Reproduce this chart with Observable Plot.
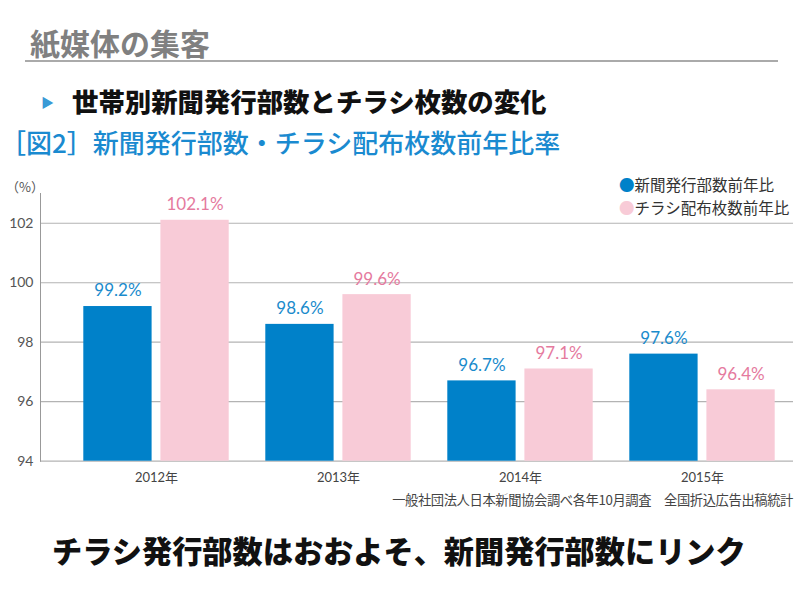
<!DOCTYPE html>
<html><head><meta charset="utf-8">
<script src="https://cdn.jsdelivr.net/npm/d3@7"></script>
<script src="https://cdn.jsdelivr.net/npm/@observablehq/plot@0.6"></script>
<style>
body{margin:0;background:#fff;}
#wrap{position:relative;width:800px;height:600px;overflow:hidden;font-family:"Noto Sans CJK JP","Noto Sans",sans-serif;}
.t{position:absolute;white-space:nowrap;}
#chart{position:absolute;left:0;top:0;}
</style></head>
<body><div id="wrap">
<div class="t" style="left:30px;top:24px;line-height:36px;font-size:30px;font-weight:700;color:#808080;">紙媒体の集客</div>
<div class="t" style="left:25px;top:60px;width:753px;height:2px;background:#aaaaaa;"></div>
<div class="t" style="left:41px;top:93px;line-height:18px;font-size:13px;color:#3a9ad6;">▶</div>
<div class="t" style="left:72px;top:84px;line-height:34px;font-size:26.4px;font-weight:900;color:#111;">世帯別新聞発行部数とチラシ枚数の変化</div>
<div class="t" style="left:0px;top:125px;line-height:34px;font-size:26px;font-weight:500;color:#1a8ad0;">［図2］新聞発行部数・チラシ配布枚数前年比率</div>
<div class="t" id="legend" style="left:619px;top:173px;font-size:15.5px;color:#333;line-height:23px;"></div>
<div class="t" style="left:6px;top:178px;line-height:18px;font-size:13px;color:#555;">（%）</div>
<div class="t" style="right:7px;top:491px;line-height:18px;font-size:13.3px;color:#444;letter-spacing:-0.4px;">一般社団法人日本新聞協会調べ各年10月調査　全国折込広告出稿統計</div>
<div class="t" style="left:52px;top:532px;line-height:36px;font-size:30.2px;font-weight:900;color:#111;">チラシ発行部数はおおよそ、新聞発行部数にリンク</div>
<div id="chart"></div>
</div>
<script>
const years = ["2012年", "2013年", "2014年", "2015年"];
const newspaperValues = [99.2, 98.6, 96.7, 97.6];
const flyerValues = [102.1, 99.6, 97.1, 96.4];
const seriesNames = ["新聞発行部数前年比", "チラシ配布枚数前年比"];
const seriesColors = ["#0081c9", "#f8cbd7"];
const labelColors = ["#1a8bcc", "#e57a9e"];
const yTicks = [94, 96, 98, 100, 102];
const yMin = 94, yMax = 103;

const newspaper = years.map((y, i) => ({year: y, value: newspaperValues[i]}));
const flyer = years.map((y, i) => ({year: y, value: flyerValues[i]}));

// legend
document.getElementById("legend").innerHTML = seriesNames.map((n, i) =>
  `<div><span style="color:${seriesColors[i]}">●</span>${n}</div>`).join("");

const bandW = 182.7, pad = 18.3, barW = 69;
const fontNum = "Lato, 'Noto Sans CJK JP', sans-serif";

const plot = Plot.plot({
  width: 800, height: 600,
  marginTop: 193, marginBottom: 139.3, marginLeft: 40, marginRight: 7,
  style: {fontFamily: fontNum, background: "transparent"},
  x: {domain: years, paddingInner: 0, paddingOuter: 0.0607, align: 1, label: null},
  y: {domain: [yMin, yMax], label: null},
  marks: [
    Plot.ruleY(yTicks, {stroke: "#b3b3b3", strokeWidth: 1.2}),
    Plot.barY(newspaper, {x: "year", y1: yMin, y2: "value", fill: seriesColors[0],
      insetLeft: pad, insetRight: bandW - pad - barW}),
    Plot.barY(flyer, {x: "year", y1: yMin, y2: "value", fill: seriesColors[1],
      insetLeft: bandW - pad - barW, insetRight: pad}),
    Plot.text(newspaper, {x: "year", y: "value", text: d => d.value.toFixed(1) + "%",
      dx: -(bandW / 2 - pad - barW / 2), dy: -15.5, fill: labelColors[0], fontSize: 17, lineAnchor: "middle"}),
    Plot.text(flyer, {x: "year", y: "value", text: d => d.value.toFixed(1) + "%",
      dx: (bandW / 2 - pad - barW / 2), dy: -15.5, fill: labelColors[1], fontSize: 17, lineAnchor: "middle"}),
    Plot.frame({anchor: "left", stroke: "#999"}),
    Plot.axisY(yTicks, {tickSize: 0, tickPadding: 7, fontSize: 14, color: "#555", label: null}),
    Plot.axisX({tickSize: 0, tickPadding: 12, fontSize: 13, color: "#444", label: null})
  ]
});
document.getElementById("chart").appendChild(plot);
</script>
</body></html>
